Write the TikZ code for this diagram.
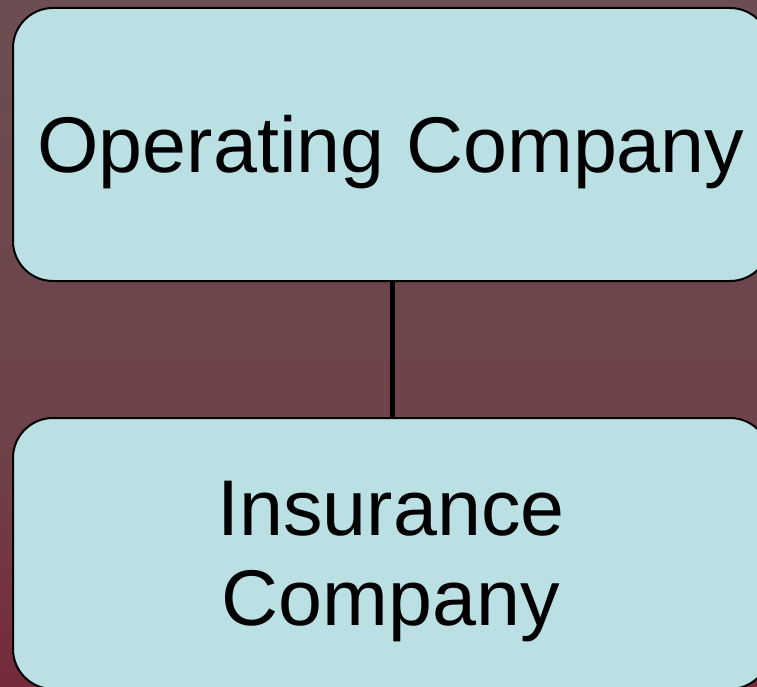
\documentclass[tikz,border=0pt]{standalone}
\usepackage{fontspec}
\setmainfont{Liberation Sans}
\definecolor{bgtop}{RGB}{108,78,82}
\definecolor{bgmid}{RGB}{110,66,72}
\definecolor{bgbot}{RGB}{118,42,58}
\definecolor{boxfill}{RGB}{186,224,228}
\begin{document}
\begin{tikzpicture}[x=1pt,y=-1pt,
  orgbox/.style={draw=black,line width=2pt,fill=boxfill,rounded corners=40pt},
  lbl/.style={font=\fontsize{79}{90}\selectfont,align=center,text=black},
  link/.style={draw=black,line width=5pt}]
\useasboundingbox (0,0) rectangle (757,687);
\shade[top color=bgtop,bottom color=bgmid] (0,0) rectangle (757,450);
\shade[top color=bgmid,bottom color=bgbot] (0,450) rectangle (757,687);
\begin{scope}
\clip (0,0) rectangle (757,687);
\draw[orgbox] (13,8) rectangle (770,281);
\draw[orgbox] (13,418) rectangle (770,689);
\node[lbl] (op) at (391,152) {Operating Company};
\node[lbl] (ins) at (391,562) {Insurance\\Company};
\coordinate (optop) at (392,281);
\coordinate (insbot) at (392,418);
\draw[link] (optop) -- (insbot);
\end{scope}
\end{tikzpicture}
\end{document}
